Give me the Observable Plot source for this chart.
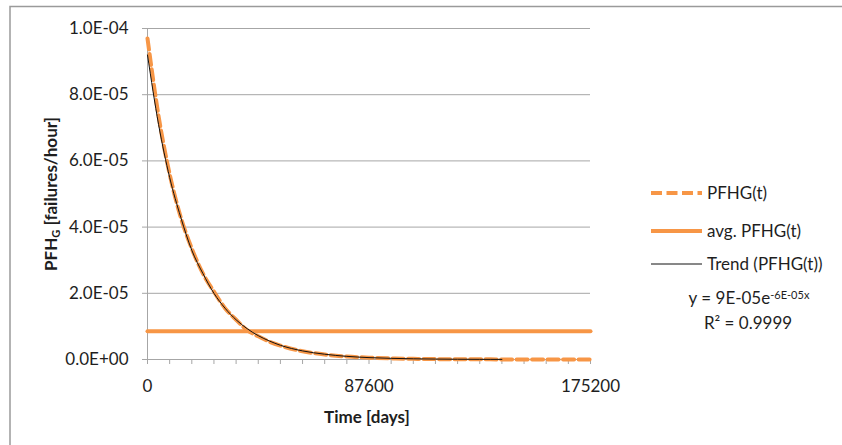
<!DOCTYPE html>
<html>
<head>
<meta charset="utf-8">
<script src="https://cdn.jsdelivr.net/npm/d3@7"></script>
<script src="https://cdn.jsdelivr.net/npm/@observablehq/plot@0.6"></script>
<style>
  html, body { margin: 0; padding: 0; background: #fff; }
  #chart { width: 842px; height: 445px; overflow: hidden; }
</style>
</head>
<body>
<div id="chart"></div>
<script>
// ---- data ----
const pfhgTime = [0, 4380, 8760, 13140, 17520, 21900, 26280, 30660, 35040, 39420, 43800, 48180, 52560,
  61320, 70080, 78840, 87600, 96360, 105120, 113880, 122640, 131400, 140160, 148920, 157680, 166440, 175200];
const pfhgValue = [9.7e-5, 7.35e-5, 5.6e-5, 4.3e-5, 3.35e-5, 2.6e-5, 2.05e-5, 1.55e-5, 1.2e-5, 8.9e-6, 7.0e-6, 5.4e-6, 4.2e-6,
  2.5e-6, 1.5e-6, 0.9e-6, 0.55e-6, 0.35e-6, 0.2e-6, 0.12e-6, 0.08e-6, 0.05e-6, 0.03e-6, 0.02e-6, 0.01e-6, 0.01e-6, 0.005e-6];

const trendTime = [0, 4380, 8760, 13140, 17520, 21900, 26280, 30660, 35040, 39420, 43800, 48180, 52560,
  61320, 70080, 78840, 87600, 96360, 105120, 113880, 122640, 131400, 140160];
const trendValue = [9.2e-5, 7.1e-5, 5.5e-5, 4.3e-5, 3.3e-5, 2.6e-5, 2.0e-5, 1.55e-5, 1.2e-5, 9.3e-6, 7.2e-6, 5.6e-6, 4.3e-6,
  2.6e-6, 1.6e-6, 0.95e-6, 0.57e-6, 0.35e-6, 0.21e-6, 0.13e-6, 0.08e-6, 0.05e-6, 0.03e-6];

const avgTime = [0, 175200];
const avgValue = [8.5e-6, 8.5e-6];

const xTicks = d3.range(0, 175201, 8760);
const xTickLabels = [0, 87600, 175200];
const yTicks = [0, 2e-5, 4e-5, 6e-5, 8e-5, 1e-4];

const seriesNames = ["PFHG(t)", "avg. PFHG(t)", "Trend (PFHG(t))"];
const equationMain = "y = 9E-05e";
const equationExp = "-6E-05x";
const rSquared = "R² = 0.9999";

// ---- helpers ----
const ORANGE = "#F79646";
const GRID = "#a6a6a6";
const TEXT = "#1e1e1e";
const FS = 17;
function sci(v) {
  if (v === 0) return "0.0E+00";
  const e = Math.floor(Math.log10(Math.abs(v)) + 1e-9);
  const m = v / Math.pow(10, e);
  const sign = e < 0 ? "-" : "+";
  return m.toFixed(1) + "E" + sign + String(Math.abs(e)).padStart(2, "0");
}

const pfhg = pfhgTime.map((t, i) => ({t, v: pfhgValue[i]}));
const trend = trendTime.map((t, i) => ({t, v: trendValue[i]}));
const avg = avgTime.map((t, i) => ({t, v: avgValue[i]}));

const font = "Lato, 'Open Sans', sans-serif";

const plot = Plot.plot({
  width: 842,
  height: 445,
  marginLeft: 147,
  marginRight: 252,
  marginTop: 28,
  marginBottom: 86,
  style: {fontFamily: font, fontSize: FS + "px", color: TEXT, background: "transparent"},
  x: {domain: [0, 175200]},
  y: {domain: [0, 1e-4]},
  marks: [
    Plot.gridY(yTicks, {stroke: GRID, strokeOpacity: 1, strokeWidth: 1}),
    Plot.axisY(yTicks, {tickSize: 5, tickPadding: 14, stroke: GRID, strokeOpacity: 1, tickFormat: sci, label: null, fill: TEXT, fontSize: FS}),
    Plot.axisX(xTicks, {tickSize: 5, tickPadding: 15, stroke: GRID, strokeOpacity: 1,
      tickFormat: d => xTickLabels.includes(d) ? String(d) : "", label: null, fill: TEXT, fontSize: FS}),
    Plot.ruleX([0], {stroke: GRID, strokeWidth: 1}),
    Plot.ruleY([0], {stroke: GRID, strokeWidth: 1}),
    Plot.line(avg, {x: "t", y: "v", stroke: ORANGE, strokeWidth: 4}),
    Plot.line(pfhg, {x: "t", y: "v", stroke: ORANGE, strokeWidth: 4, strokeDasharray: "11,4.5", curve: "monotone-x"}),
    Plot.line(trend, {x: "t", y: "v", stroke: "#111", strokeWidth: 1, curve: "monotone-x"})
  ]
});

const svg = d3.select(plot);
// outer frame (left and top edges visible)
svg.insert("rect", ":first-child")
  .attr("x", 10).attr("y", 6.5).attr("width", 900).attr("height", 500)
  .attr("fill", "none").attr("stroke", "#9a9a9a").attr("stroke-width", 1.5);

// y-axis title
const yt = svg.append("text")
  .attr("transform", "translate(57,194) rotate(-90)")
  .attr("text-anchor", "middle")
  .attr("font-family", font).attr("font-size", FS).attr("font-weight", "bold").attr("fill", TEXT);
yt.append("tspan").text("PFH");
yt.append("tspan").text("G").attr("font-size", 11).attr("baseline-shift", "-25%");
yt.append("tspan").text(" [failures/hour]");

// x-axis title
svg.append("text")
  .attr("x", 367).attr("y", 423)
  .attr("text-anchor", "middle")
  .attr("font-family", font).attr("font-size", FS).attr("font-weight", "bold").attr("fill", TEXT)
  .text("Time [days]");

// legend
const lg = svg.append("g").attr("font-family", font).attr("font-size", FS).attr("fill", TEXT).attr("text-anchor", "start");
const rows = [
  {y: 193, stroke: ORANGE, w: 4, dash: "11,4.5"},
  {y: 231, stroke: ORANGE, w: 4, dash: null},
  {y: 264, stroke: "#111", w: 1, dash: null}
];
rows.forEach((r, i) => {
  const ln = lg.append("line").attr("x1", 651).attr("x2", 702).attr("y1", r.y).attr("y2", r.y)
    .attr("stroke", r.stroke).attr("stroke-width", r.w);
  if (r.dash) ln.attr("stroke-dasharray", r.dash);
  lg.append("text").attr("x", 707).attr("y", r.y).attr("dy", "0.35em").attr("text-anchor", "start").text(seriesNames[i]);
});
const eq = lg.append("text").attr("x", 749).attr("y", 298).attr("dy", "0.35em").attr("text-anchor", "middle");
eq.append("tspan").text(equationMain);
eq.append("tspan").text(equationExp).attr("font-size", 11).attr("baseline-shift", "45%");
lg.append("text").attr("x", 748).attr("y", 323).attr("dy", "0.35em").attr("text-anchor", "middle").text(rSquared);

document.getElementById("chart").appendChild(plot);
</script>
</body>
</html>
